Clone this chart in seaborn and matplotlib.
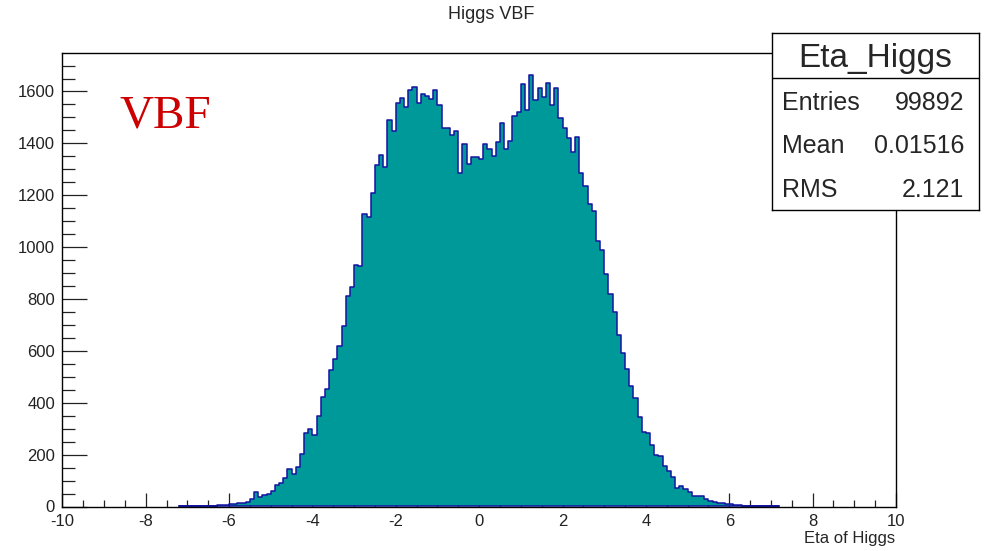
import numpy as np
import pandas as pd
import matplotlib
matplotlib.use("Agg")
import matplotlib.pyplot as plt
from matplotlib.ticker import MultipleLocator
import seaborn as sns

# Axis range and the populated bin contents (bin width 0.1),
# starting at the bin whose lower edge is first_edge.
x_range = (-10.0, 10.0)
first_edge = -7.2
bin_width = 0.1
eta_counts = [
    2, 0, 3, 2, 0, 2, 0, 3, 2, 4,                                  # -7.2 .. -6.3
    6, 7, 8, 11, 14, 15, 16, 29, 55, 36,                           # -6.2 .. -5.3
    46, 47, 59, 81, 89, 108, 143, 126, 153, 202,                   # -5.2 .. -4.3
    284, 299, 274, 349, 421, 452, 525, 568, 620, 694,              # -4.2 .. -3.3
    810, 847, 932, 926, 1126, 1117, 1208, 1316, 1357, 1307,        # -3.2 .. -2.3
    1489, 1448, 1557, 1574, 1539, 1605, 1617, 1555, 1592, 1582,    # -2.2 .. -1.3
    1572, 1605, 1547, 1460, 1460, 1434, 1446, 1285, 1399, 1319,    # -1.2 .. -0.3
    1349, 1349, 1341, 1397, 1377, 1351, 1405, 1478, 1377, 1409,    # -0.2 .. 0.7
    1506, 1521, 1629, 1530, 1664, 1568, 1613, 1580, 1633, 1547,    # 0.8 .. 1.7
    1613, 1499, 1460, 1420, 1365, 1426, 1285, 1234, 1165, 1138,    # 1.8 .. 2.7
    1025, 989, 896, 819, 749, 660, 591, 531, 465, 420,             # 2.8 .. 3.7
    346, 287, 283, 236, 198, 196, 155, 137, 112, 70,               # 3.8 .. 4.7
    78, 68, 56, 41, 42, 42, 27, 23, 17, 12,                        # 4.8 .. 5.7
    12, 8, 8, 4, 6, 3, 2, 3, 2, 1,                                 # 5.8 .. 6.7
    2, 1, 1, 1,                                                    # 6.8 .. 7.1
]

hist_title = "Higgs VBF"
x_title = "Eta of Higgs"
stats_name = "Eta_Higgs"
stats_labels = ["Entries", "Mean", "RMS"]
stats_values = ["99892", "0.01516", "2.121"]
tag_text = "VBF"

sns.set_style("white")
plt.rcParams["font.family"] = ["Liberation Sans", "DejaVu Sans"]
plt.rcParams["axes.unicode_minus"] = False

W, H = 993, 551
fig = plt.figure(figsize=(W / 100, H / 100), dpi=100)
fig.patch.set_facecolor("white")


def fx(px):
    return px / W


def fy(py):
    return 1.0 - py / H


# Frame of the histogram pad
left, right, top, bottom = 62.3, 896.0, 53.3, 506.5
ax = fig.add_axes([fx(left), fy(bottom), fx(right) - fx(left), fy(top) - fy(bottom)])

n_filled = len(eta_counts)
centers = first_edge + bin_width * (np.arange(n_filled) + 0.5)
df = pd.DataFrame({"eta": centers, "count": eta_counts})

sns.histplot(
    data=df, x="eta", weights="count",
    bins=n_filled, binrange=(first_edge, first_edge + bin_width * n_filled),
    element="step", fill=True, color="#009999", alpha=1.0,
    edgecolor="#1414a0", linewidth=1.1, ax=ax,
)

ax.set_xlim(*x_range)
ax.set_ylim(0, 1.05 * max(eta_counts))
ax.set_xlabel("")
ax.set_ylabel("")
ax.set_facecolor("white")

ax.xaxis.set_major_locator(MultipleLocator(2))
ax.xaxis.set_minor_locator(MultipleLocator(0.5))
ax.yaxis.set_major_locator(MultipleLocator(200))
ax.yaxis.set_minor_locator(MultipleLocator(50))

ax.tick_params(axis="x", which="major", direction="in", length=10, width=0.9,
               pad=5.5, labelsize=12, colors="#222222", bottom=True, top=False)
ax.tick_params(axis="x", which="minor", direction="in", length=5, width=0.9,
               color="#222222", bottom=True, top=False)
ax.tick_params(axis="y", which="major", direction="in", length=18, width=0.9,
               pad=5.2, labelsize=12, colors="#222222", left=True, right=False)
ax.tick_params(axis="y", which="minor", direction="in", length=9.4, width=0.9,
               color="#222222", left=True, right=False)

for sp in ax.spines.values():
    sp.set_visible(True)
    sp.set_color("black")
    sp.set_linewidth(1.0)
ax.set_zorder(1)

# Titles and annotation
fig.text(0.495, fy(19), hist_title, ha="center", va="baseline", fontsize=13)
fig.text(fx(895), fy(543), x_title, ha="right", va="baseline", fontsize=12)
fig.text(fx(120), fy(127.3), tag_text, ha="left", va="baseline",
         family=["Liberation Serif", "DejaVu Serif"], color="#cc0000", fontsize=34)

# Statistics box, drawn over the frame's top-right corner
bx0, bx1, by0, by1 = 771.7, 979.3, 33.3, 210.0
sax = fig.add_axes([fx(bx0), fy(by1), fx(bx1) - fx(bx0), fy(by0) - fy(by1)])
sax.set_zorder(2)
sax.set_facecolor("white")
sax.set_xticks([])
sax.set_yticks([])
for sp in sax.spines.values():
    sp.set_visible(True)
    sp.set_color("black")
    sp.set_linewidth(1.0)
sax.axhline((by1 - 78.3) / (by1 - by0), color="black", linewidth=1.0)

sax.text(0.5, 1 - (66.7 - by0) / (by1 - by0), stats_name, transform=sax.transAxes,
         ha="center", va="baseline", fontsize=24)
row_baselines = [110.0, 153.3, 196.7]
for lab, val, yb in zip(stats_labels, stats_values, row_baselines):
    yy = 1 - (yb - by0) / (by1 - by0)
    sax.text((781.7 - bx0) / (bx1 - bx0), yy, lab, transform=sax.transAxes,
             ha="left", va="baseline", fontsize=18)
    sax.text((964.3 - bx0) / (bx1 - bx0), yy, val, transform=sax.transAxes,
             ha="right", va="baseline", fontsize=18)

fig.savefig("out.png", dpi=100)
